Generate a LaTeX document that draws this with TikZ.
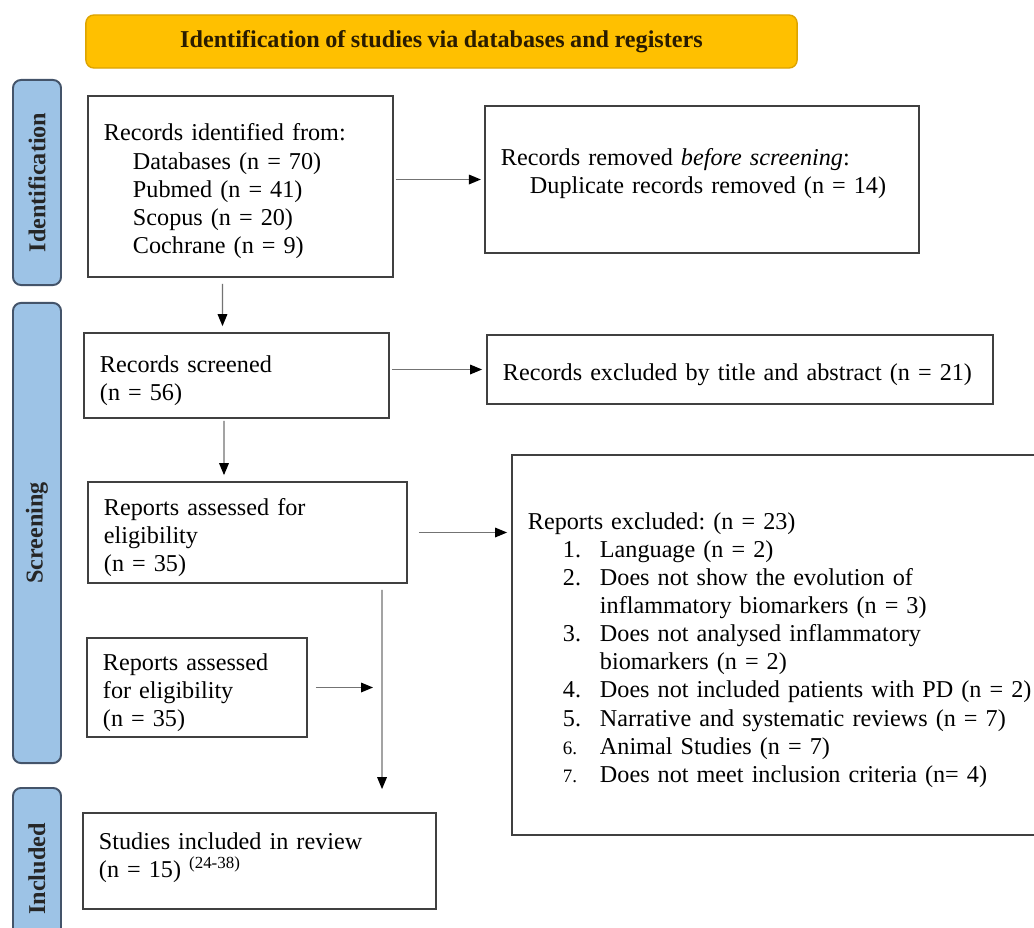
\documentclass[tikz,border=0pt]{standalone}
\usepackage{fontspec}
\setmainfont{Liberation Serif}[WordSpace=0.9]
\usepackage[dvipsnames,svgnames]{xcolor}
\usepackage{tikz}
\usetikzlibrary{arrows.meta,positioning,calc}
\frenchspacing
\definecolor{hdrgold}{HTML}{FFC000}
\definecolor{hdredge}{HTML}{DDA400}
\definecolor{hdrtext}{HTML}{2A1C00}
\definecolor{barblue}{HTML}{9DC3E6}
\definecolor{baredge}{HTML}{44546A}
\newcommand{\bodyfont}{\fontsize{17.2pt}{20pt}\selectfont}
\newcommand{\smallnum}[1]{{\fontsize{13.5pt}{20pt}\selectfont #1}}

\begin{document}
\begin{tikzpicture}[x=0.025cm,y=-0.025cm,
		box/.style={draw=black!75, line width=1.2pt, fill=white, align=left, inner xsep=0.4cm, inner ysep=0pt, font=\bodyfont, execute at begin node={\rule{0pt}{1.1em}}},
		sidebar/.style={draw=baredge, line width=1.4pt, fill=barblue, rounded corners=0.2cm, rotate=90, minimum height=1.2cm, inner sep=0pt, font=\bodyfont\bfseries, text=black!85},
		arr/.style={draw=black!55, line width=1pt, -{Triangle[length=0.3cm,width=0.24cm,color=black]}}]
		\clip (0,0) rectangle (1034,928);
		\fill[white] (0,0) rectangle (1034,928);
		\node[draw=hdredge, line width=1pt, fill=hdrgold, rounded corners=0.2cm, minimum width=17.775cm, minimum height=1.325cm, font=\bodyfont\bfseries, text=hdrtext] (hdr) at (441.5,41.5) {Identification of studies via databases and registers};
		\node[sidebar, minimum width=5.125cm] (sbid) at (37,182.5) {Identification};
		\node[sidebar, minimum width=11.5cm] (sbscr) at (37,533) {Screening};
		\node[sidebar, minimum width=4.05cm] (sbinc) at (37,869) {Included};
		\node[box, text width=6.825cm, minimum height=4.525cm] (recid) at (240.5,186.5) {Records identified from:\\
			\hspace*{0.725cm}Databases (n = 70)\\
			\hspace*{0.725cm}Pubmed (n = 41)\\
			\hspace*{0.725cm}Scopus (n = 20)\\
			\hspace*{0.725cm}Cochrane (n = 9)};
		\node[box, text width=10.05cm, minimum height=3.675cm] (dup) at (702,179.5) {Records removed \textit{before screening}:\\
			\hspace*{0.725cm}Duplicate records removed (n = 14)\\[-0.05cm]\mbox{}};
		\node[box, text width=6.825cm, minimum height=2.125cm] (screened) at (236.5,375.5) {Records screened\\(n = 56)};
		\node[box, text width=11.85cm, minimum height=1.725cm] (excl) at (740,369.5) {Records excluded by title and abstract (n = 21)};
		\node[box, text width=7.175cm, minimum height=2.525cm] (assessA) at (247.5,532.5) {Reports assessed for\\eligibility\\(n = 35)};
		\node[box, text width=12.65cm, minimum height=9.5cm] (repexcl) at (781,645) {Reports excluded: (n = 23)\\
			\hspace*{0.875cm}\makebox[0.925cm][l]{1.}Language (n = 2)\\
			\hspace*{0.875cm}\makebox[0.925cm][l]{2.}Does not show the evolution of\\
			\hspace*{1.8cm}inflammatory biomarkers (n = 3)\\
			\hspace*{0.875cm}\makebox[0.925cm][l]{3.}Does not analysed inflammatory\\
			\hspace*{1.8cm}biomarkers (n = 2)\\
			\hspace*{0.875cm}\makebox[0.925cm][l]{4.}Does not included patients with PD (n = 2)\\
			\hspace*{0.875cm}\makebox[0.925cm][l]{5.}Narrative and systematic reviews (n = 7)\\
			\hspace*{0.875cm}\makebox[0.925cm][l]{\smallnum{6.}}Animal Studies (n = 7)\\
			\hspace*{0.875cm}\makebox[0.925cm][l]{\smallnum{7.}}Does not meet inclusion criteria (n= 4)};
		\node[box, text width=4.7cm, minimum height=2.475cm] (assessB) at (197,687.5) {Reports assessed\\for eligibility\\(n = 35)};
		\node[box, text width=8.025cm, minimum height=2.4cm] (incl) at (259.5,861) {Studies included in review\\(n = 15) \textsuperscript{(24-38)}\\[-0.15cm]\mbox{}};
		\coordinate (jn) at ([xshift=3.3625cm]assessA.south);
		\draw[arr, shorten <=0.05cm, shorten >=0.08cm] (dup.west -| recid.east) -- (dup.west);
		\draw[arr, shorten <=0.15cm, shorten >=0.15cm] ([xshift=-0.45cm]recid.south) -- ([xshift=-0.35cm]screened.north);
		\draw[arr, shorten <=0.05cm, shorten >=0.1cm] (excl.west -| screened.east) -- (excl.west);
		\draw[arr, shorten <=0.05cm, shorten >=0.15cm] ([xshift=-0.3125cm]screened.south) -- ([xshift=-0.5875cm]assessA.north);
		\draw[arr, shorten <=0.275cm, shorten >=0.1cm] (assessA.east) -- (assessA.east -| repexcl.west);
		\draw[arr, shorten <=0.15cm, shorten >=0.575cm] (jn) -- ([xshift=3.0625cm]incl.north);
		\draw[arr, shorten <=0.2cm, shorten >=0.225cm] (assessB.east) -- (assessB.east -| jn);
\end{tikzpicture}
\end{document}
